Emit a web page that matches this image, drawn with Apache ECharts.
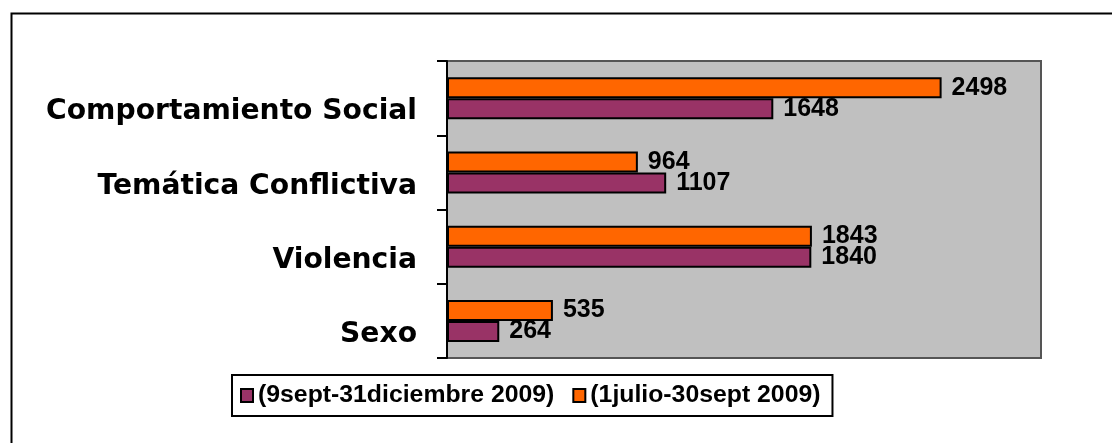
<!DOCTYPE html>
<html>
<head>
<meta charset="utf-8">
<script src="https://cdn.jsdelivr.net/npm/echarts@6/dist/echarts.min.js"></script>
<style>
html,body{margin:0;padding:0;background:#fff;}
#chart{width:1112px;height:443px;}
</style>
</head>
<body>
<div id="chart"></div>
<script>
var categories = ['Sexo', 'Violencia', 'Temática Conflictiva', 'Comportamiento Social'];
var seriesNames = ['(9sept-31diciembre 2009)', '(1julio-30sept 2009)'];
var valuesSeptDic = [264, 1840, 1107, 1648];
var valuesJulSept = [535, 1843, 964, 2498];

var chart = echarts.init(document.getElementById('chart'), null, {renderer: 'canvas'});
var labelStyle = {
  show: true, position: 'right', distance: 10,
  color: '#000', fontFamily: 'Liberation Sans, Arial, sans-serif',
  fontWeight: 'bold', fontSize: 25
};
chart.setOption({
  animation: false,
  backgroundColor: '#fff',
  graphic: [{
    type: 'rect', left: 9, top: 11, z: -1,
    shape: {width: 1200, height: 600},
    style: {fill: 'none', stroke: '#000', lineWidth: 2}
  }],
  grid: {
    left: 447, top: 61, width: 594, height: 297,
    show: true, backgroundColor: '#C0C0C0', borderColor: '#555', borderWidth: 2
  },
  legend: {
    left: 232, top: 375,
    orient: 'horizontal',
    borderColor: '#000', borderWidth: 2,
    padding: [8, 12, 8, 8],
    itemWidth: 12, itemHeight: 13, itemGap: 18,
    icon: 'rect',
    itemStyle: {borderColor: '#000', borderWidth: 2},
    textStyle: {color: '#000', fontFamily: 'Liberation Sans, Arial, sans-serif', fontWeight: 'bold', fontSize: 24.8},
    data: seriesNames
  },
  xAxis: {
    type: 'value', min: 0, max: 3000,
    show: false, splitLine: {show: false}
  },
  yAxis: {
    type: 'category', data: categories,
    axisLine: {show: true, lineStyle: {color: '#000', width: 2}},
    axisTick: {show: true, length: 10, lineStyle: {color: '#000', width: 2}},
    axisLabel: {
      color: '#000', fontFamily: 'DejaVu Sans, Verdana, sans-serif', fontWeight: 'bold',
      fontSize: 28.2, margin: 30, verticalAlign: 'top', lineHeight: 28
    }
  },
  series: [{
    name: seriesNames[1], type: 'bar', data: valuesJulSept,
    barWidth: 21, barGap: '0%',
    itemStyle: {color: '#FF6600', borderColor: '#000', borderWidth: 2},
    label: labelStyle
  }, {
    name: seriesNames[0], type: 'bar', data: valuesSeptDic,
    barWidth: 21, barGap: '0%',
    itemStyle: {color: '#993366', borderColor: '#000', borderWidth: 2},
    label: labelStyle
  }]
});
</script>
</body>
</html>
